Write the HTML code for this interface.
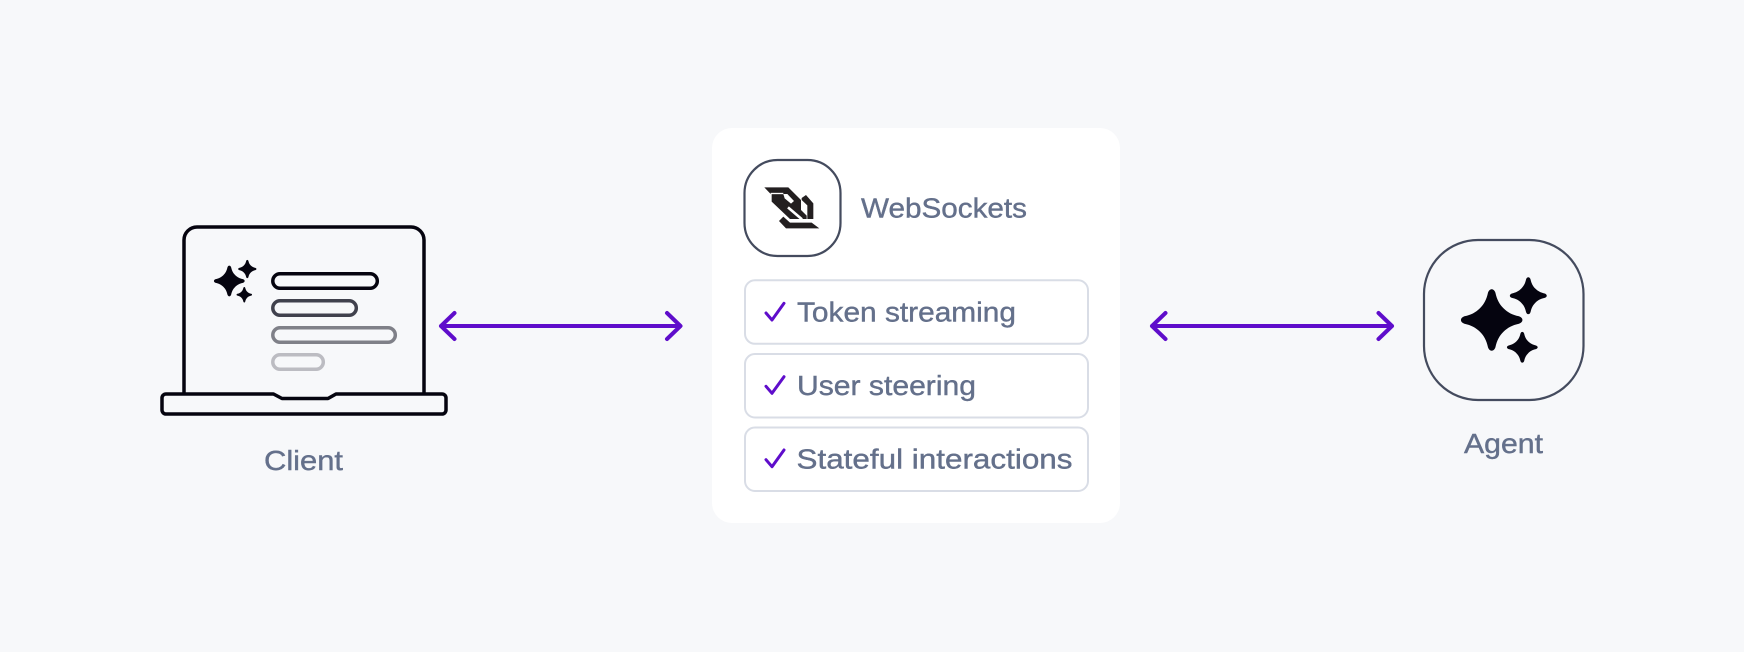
<!DOCTYPE html>
<html lang="en">
<head>
<meta charset="utf-8">
<title>WebSockets diagram</title>
<style>
html,body{margin:0;padding:0;background:#f7f8fa;width:1744px;height:652px;overflow:hidden}
svg{display:block}
text{font-family:"Liberation Sans",sans-serif;fill:#64708b;stroke:#64708b;stroke-width:.4px;font-size:28px}
</style>
</head>
<body>
<svg xmlns="http://www.w3.org/2000/svg" width="1744" height="652" viewBox="0 0 1744 652">
<defs>
<path id="s" d="M-.12-.88C-.07-1.03.07-1.03.12-.88C.17-.66.24-.52.38-.38C.52-.24.66-.17.88-.12C1.03-.07 1.03.07.88.12C.66.17.52.24.38.38C.24.52.17.66.12.88C.07 1.03-.07 1.03-.12.88C-.17.66-.24.52-.38.38C-.52.24-.66.17-.88.12C-1.03.07-1.03-.07-.88-.12C-.66-.17-.52-.24-.38-.38C-.24-.52-.17-.66-.12-.88Z" fill="#05040f"/>
</defs>
<rect width="1744" height="652" fill="#f7f8fa"/>

<!-- laptop -->
<path d="M184 393V240a13 13 0 0 1 13-13H411a13 13 0 0 1 13 13V393" fill="none" stroke="#05040f" stroke-width="3.500"/>
<path d="M166 394H273.500L282 398.500H328L336 394H442a4 4 0 0 1 4 4V410a4 4 0 0 1-4 4H166a4 4 0 0 1-4-4V398a4 4 0 0 1 4-4Z" fill="none" stroke="#05040f" stroke-width="3.500" stroke-linejoin="round"/>
<rect x="272.800" y="273.800" width="104.500" height="14.400" rx="7.200" fill="none" stroke="#05040f" stroke-width="3.500"/>
<rect x="272.800" y="300.800" width="83.500" height="14.400" rx="7.200" fill="none" stroke="#40414d" stroke-width="3.500"/>
<rect x="272.800" y="327.800" width="122.500" height="14.400" rx="7.200" fill="none" stroke="#7f8088" stroke-width="3.500"/>
<rect x="272.800" y="354.800" width="50.500" height="14.400" rx="7.200" fill="none" stroke="#bcbcc2" stroke-width="3.500"/>
<use href="#s" transform="translate(229.300 281) scale(15.500)"/>
<use href="#s" transform="translate(247.300 269) scale(9.200)"/>
<use href="#s" transform="translate(244.300 294.700) scale(7.800)"/>
<text x="264" y="470" textLength="79" lengthAdjust="spacingAndGlyphs">Client</text>

<!-- arrows -->
<g fill="none" stroke="#5f0dcb" stroke-width="4" stroke-linecap="round" stroke-linejoin="round">
<path d="M441 326H680M454.500 313L441 326L454.500 339M667 313L680.500 326L667 339"/>
<path d="M1152 326H1392M1165.500 313L1152 326L1165.500 339M1378.500 313L1392 326L1378.500 339"/>
</g>

<!-- card -->
<rect x="712" y="128" width="408" height="395" rx="20" fill="#fff"/>
<rect x="744.500" y="160" width="96" height="96" rx="33" fill="#fff" stroke="#444b5e" stroke-width="2.200"/>
<g transform="translate(700 120) scale(.33333)">
<path d="M193 202H265L303 240V270L320 287V297H270L215 245V222H212Z" fill="#231f20"/>
<path d="M212 220.500H250" stroke="#fff" stroke-width="4" fill="none"/>
<path d="M250 222H262L282 243L273 251L254 235Z" fill="#fff"/>
<path d="M264 262L306 298" stroke="#fff" stroke-width="8" fill="none"/>
<path d="M305 234L318 225L340 250V297H322V256L305 240Z" fill="#231f20"/>
<path d="M237 303L250 290L270 308H335L358 325H258Z" fill="#231f20"/>
</g>
<text x="861" y="217.700" textLength="166" lengthAdjust="spacingAndGlyphs">WebSockets</text>

<g fill="#fff" stroke="#d9dde6" stroke-width="2">
<rect x="745" y="280.300" width="343" height="63.500" rx="10"/>
<rect x="745" y="354" width="343" height="63.500" rx="10"/>
<rect x="745" y="427.500" width="343" height="63.500" rx="10"/>
</g>
<g fill="none" stroke="#5f0dcb" stroke-width="3" stroke-linecap="round" stroke-linejoin="round">
<path d="M766 313L772 320L784 303.300"/>
<path d="M766 386.300L772 393.300L784 376.700"/>
<path d="M766 459.700L772 466.700L784 450"/>
</g>
<text x="797" y="321.700" textLength="219" lengthAdjust="spacingAndGlyphs">Token streaming</text>
<text x="797" y="395" textLength="179" lengthAdjust="spacingAndGlyphs">User steering</text>
<text x="796.500" y="468.700" textLength="276" lengthAdjust="spacingAndGlyphs">Stateful interactions</text>

<!-- agent -->
<rect x="1424" y="240" width="159.500" height="160" rx="54" fill="#f7f8fa" stroke="#444b5e" stroke-width="2.200"/>
<use href="#s" transform="translate(1491.700 320) scale(31)"/>
<use href="#s" transform="translate(1528.300 295.700) scale(18.600)"/>
<use href="#s" transform="translate(1522.300 347.300) scale(15.500)"/>
<text x="1464" y="453" textLength="79" lengthAdjust="spacingAndGlyphs">Agent</text>
</svg>
</body>
</html>
